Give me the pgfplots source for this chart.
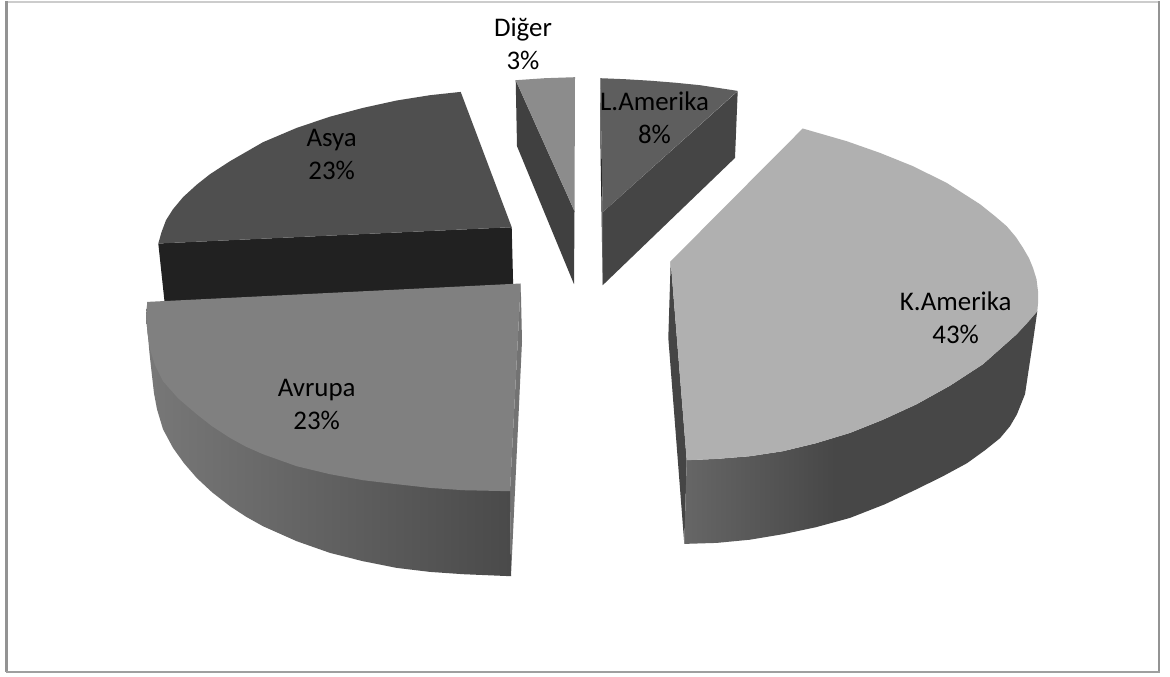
\documentclass[border=0pt]{standalone}
\usepackage{pgfplots}
\pgfplotsset{compat=1.18}
\usepackage{fontspec}
\setmainfont{Carlito}
\definecolor{kamL}{gray}{0.40}
\definecolor{kamD}{gray}{0.28}
\definecolor{avrL}{gray}{0.47}
\definecolor{avrD}{gray}{0.29}
\pgfdeclarehorizontalshading{kamside}{100bp}{color(0bp)=(kamL);color(25bp)=(kamL);color(46bp)=(kamD);color(75bp)=(kamD);color(100bp)=(kamD)}
\pgfdeclarehorizontalshading{avrside}{100bp}{color(0bp)=(avrL);color(25bp)=(avrL);color(75bp)=(avrD);color(100bp)=(avrD)}
\newcommand{\lab}[3]{\node[anchor=base,text=black,font=\fontsize{26.9}{26.9}\selectfont,inner sep=0pt] at (axis cs:#1,#2) {#3};}
\begin{document}
\begin{tikzpicture}
\begin{axis}[
  scale only axis, width=1170pt, height=675pt,
  xmin=0, xmax=1170, ymin=0, ymax=675, y dir=reverse,
  hide axis, clip=false, enlargelimits=false,
]
% page background and chart frame
\addplot[fill=white,draw=none] coordinates {(0,0)(1170,0)(1170,675)(0,675)(0,0)};
\addplot[draw=gray!40,line width=2pt] coordinates {(6.5,0.5)(1159,0.5)};
\addplot[draw=gray!85,line width=2.4pt] coordinates {(6.5,0)(6.5,671)};
\addplot[draw=gray!85,line width=2.4pt] coordinates {(1159,0)(1159,671)};
\addplot[draw=gray!75,line width=2pt] coordinates {(5.5,671)(1160,671)};

% Diger slice
\addplot[fill=black!75,draw=none] coordinates {(515.7,79)(517,145)(574,283)(574.5,210)(515.7,79)};
\addplot[fill=black!45,draw=none] coordinates {(515.7,79)(545,77)(575,76)(574.5,210)(515.7,79)};

% L.Amerika slice
\addplot[fill=black!85,draw=none] coordinates {(600.3,77)(600.5,150)(602.7,284)(602.7,211)(600.3,77)};
\addplot[fill=black!73,draw=none] coordinates {(737.7,90)(735,156.7)(602.7,284)(602.7,211)(737.7,90)};
\addplot[fill=black!63,draw=none] coordinates {(600.3,77)(625,78)(650,79.5)(675,81.5)(700,84)(720,87)(737.7,89.7)(602.7,211)(600.3,77)};

% Asya slice
\addplot[fill=black!87,draw=none] coordinates {(158.3,242.3)(511.7,226)(513.3,290)(165,305)(158.3,242.3)};
\addplot[fill=black!69,draw=none] coordinates {(460.7,90.7)(430,94)(396.7,99.3)(363,106.7)(330,115.5)(296.7,126.7)(263,141)(230,160)(210,173)(196.7,183.5)(183,196)(173,208)(166,219)(161.5,231)(158.3,242.3)(511.7,226)(460.7,90.7)};

% Avrupa slice
\addplot[fill=black!55,draw=none] coordinates {(520.7,282.3)(522,340)(511,575)(510,490)(520.7,282.3)};
\addplot[shading=avrside,draw=none] coordinates {(147.3,300.7)(146,316)(148,335)(149.5,352)(151.7,372)(154,392)(157,408)(163,428)(173,446.7)(184,462)(196.7,476.7)(212,491)(230,505)(246,515.5)(263,525)(296.7,540)(330,551.7)(363,560)(396.7,566.7)(430,570.7)(463,573)(511,575)(510,490)(147.3,300.7)};
\addplot[fill=black!50,draw=none] coordinates {(147.3,300.7)(146.3,316.7)(147.5,332)(150,348)(155,364)(163,380)(178,397)(196.7,413)(212,425)(230,436.7)(246,445.5)(263,453)(296.7,465)(330,473)(363,479)(396.7,483)(430,486.7)(463,489)(510,490)(520.7,282.3)(147.3,300.7)};

% K.Amerika slice
\addplot[fill=black!73,draw=none] coordinates {(670.7,260)(668.3,336.7)(684.3,542.7)(686.7,459)(670.7,260)};
\addplot[shading=kamside,draw=none] coordinates {(686.7,459)(684.3,542.7)(716.7,541.7)(750,538.5)(783,533)(816,526)(850,516.7)(885,503)(916.7,488)(943,475)(967,462)(985,449)(1000,437)(1010,425)(1017,413)(1025,393)(1028,373)(1033,340)(1037.3,310)(1016.7,333)(983,363)(950,384.5)(916.7,403)(883,418.5)(850,431.7)(816,442)(783,450)(750,455)(716.7,457.7)(686.7,459)};
\addplot[fill=black!31,draw=none] coordinates {(802.7,127.3)(846.7,140)(880,151.7)(913,165)(946.7,181.7)(980,203)(995,215)(1006.7,225)(1016,236)(1023,246.7)(1029,257)(1033,266.7)(1036.5,278)(1038,290)(1038.2,300)(1037.3,310)(1028,321)(1016.7,333)(983,363)(950,384.5)(916.7,403)(883,418.5)(850,431.7)(816,442)(783,450)(750,455)(716.7,457.7)(686.7,459)(670.7,260)(802.7,127.3)};

% category names and shares
\lab{523}{35}{Diğer}
\lab{523}{68}{3\%}
\lab{654.5}{109}{L.Amerika}
\lab{654.5}{142}{8\%}
\lab{331.7}{145}{Asya}
\lab{331.7}{178}{23\%}
\lab{316.7}{395}{Avrupa}
\lab{316.7}{428}{23\%}
\lab{955.7}{309}{K.Amerika}
\lab{955.7}{342}{43\%}
\end{axis}
\end{tikzpicture}
\end{document}
